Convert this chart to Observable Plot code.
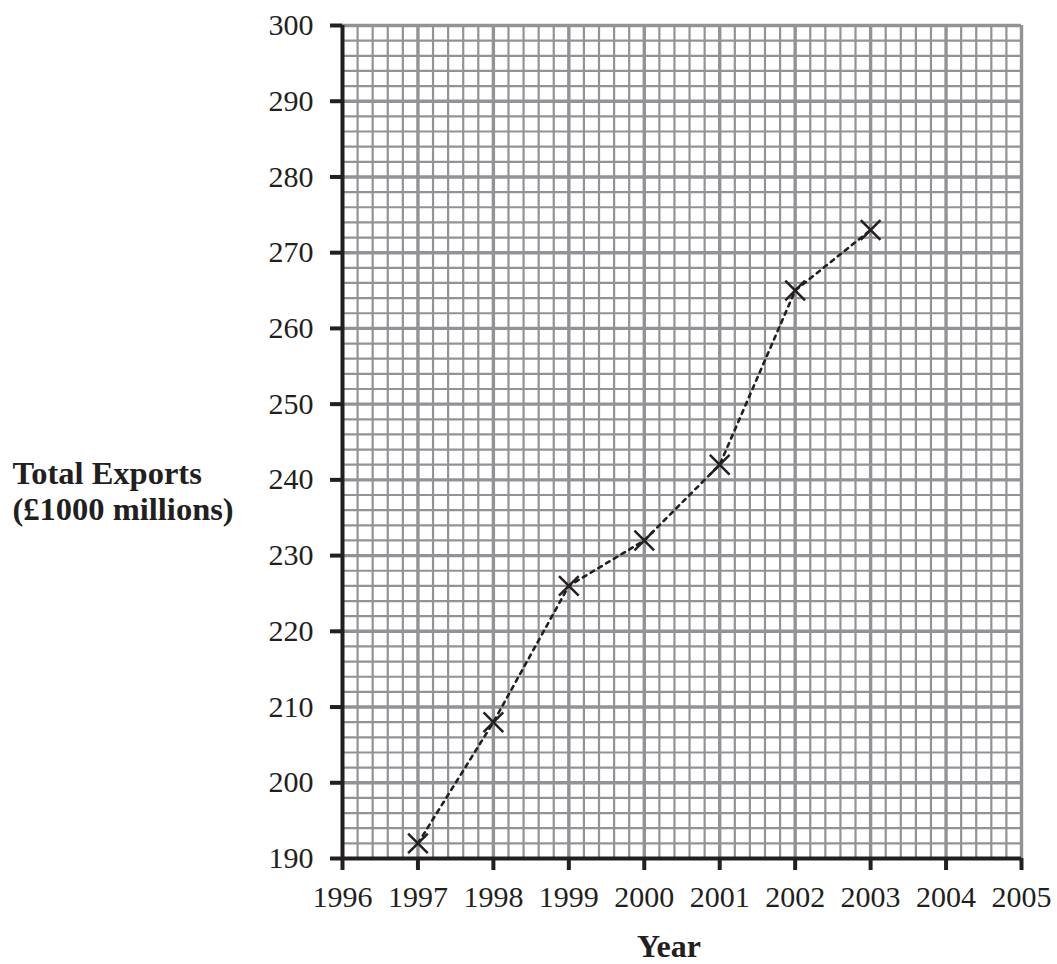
<!DOCTYPE html>
<html>
<head>
<meta charset="utf-8">
<script src="https://cdn.jsdelivr.net/npm/d3@7"></script>
<script src="https://cdn.jsdelivr.net/npm/@observablehq/plot@0.6"></script>
<style>
  html, body { margin: 0; padding: 0; background: #fff; }
  svg { display: block; }
</style>
</head>
<body>
<div id="chart"></div>
<script>
const years = [1997, 1998, 1999, 2000, 2001, 2002, 2003];
const exports = [192, 208, 226, 232, 242, 265, 273];
const xTicks = [1996, 1997, 1998, 1999, 2000, 2001, 2002, 2003, 2004, 2005];
const yTicks = [190, 200, 210, 220, 230, 240, 250, 260, 270, 280, 290, 300];
const xLabel = "Year";
const yLabel = ["Total Exports", "(£1000 millions)"];

const data = years.map((y, i) => ({year: y, value: exports[i]}));
const xMinor = d3.range(1996, 2005.001, 0.2).filter(v => Math.abs(v - Math.round(v)) > 1e-6);
const yMinor = d3.range(190, 300.001, 2).filter(v => v % 10 !== 0);

const font = "'Liberation Serif', 'Times New Roman', serif";
const grid = "#939397";

const chart = Plot.plot({
  width: 1057,
  height: 964,
  marginLeft: 342,
  marginRight: 36,
  marginTop: 25,
  marginBottom: 106,
  style: {fontFamily: font, fontSize: "30px", color: "#231f20", background: "#fff"},
  x: {domain: [1996, 2005]},
  y: {domain: [190, 300]},
  marks: [
    Plot.ruleX(xMinor, {stroke: grid, strokeWidth: 2.2}),
    Plot.ruleY(yMinor, {stroke: grid, strokeWidth: 2.2}),
    Plot.ruleX(xTicks.slice(1), {stroke: grid, strokeWidth: 3.4}),
    Plot.ruleY(yTicks.slice(1), {stroke: grid, strokeWidth: 3.4}),
    Plot.axisX({ticks: xTicks, tickFormat: "d", tickSize: 12, tickPadding: 15, strokeWidth: 4, stroke: "#231f20", fontSize: 30, label: null}),
    Plot.axisY({ticks: yTicks, tickFormat: "d", tickSize: 12, tickPadding: 17, strokeWidth: 4, stroke: "#231f20", fontSize: 30, label: null}),
    Plot.ruleY([190], {stroke: "#231f20", strokeWidth: 4}),
    Plot.ruleX([1996], {stroke: "#231f20", strokeWidth: 4}),
    Plot.line(data, {x: "year", y: "value", stroke: "#231f20", strokeWidth: 2.6, strokeDasharray: "4,5"}),
    Plot.dot(data, {x: "year", y: "value", symbol: "times", r: 9, stroke: "#231f20", strokeWidth: 2.5}),
    Plot.text([xLabel], {frameAnchor: "bottom", dy: 98, fontWeight: "bold", fontSize: 32, fill: "#231f20", lineAnchor: "bottom", dx: -13}),
    Plot.text([yLabel.join("\n")], {x: 1996, y: 238.6, dx: -330, textAnchor: "start", fontWeight: "bold", fontSize: 32.5, lineHeight: 1.1, fill: "#231f20"})
  ]
});
document.getElementById("chart").appendChild(chart);
</script>
</body>
</html>
